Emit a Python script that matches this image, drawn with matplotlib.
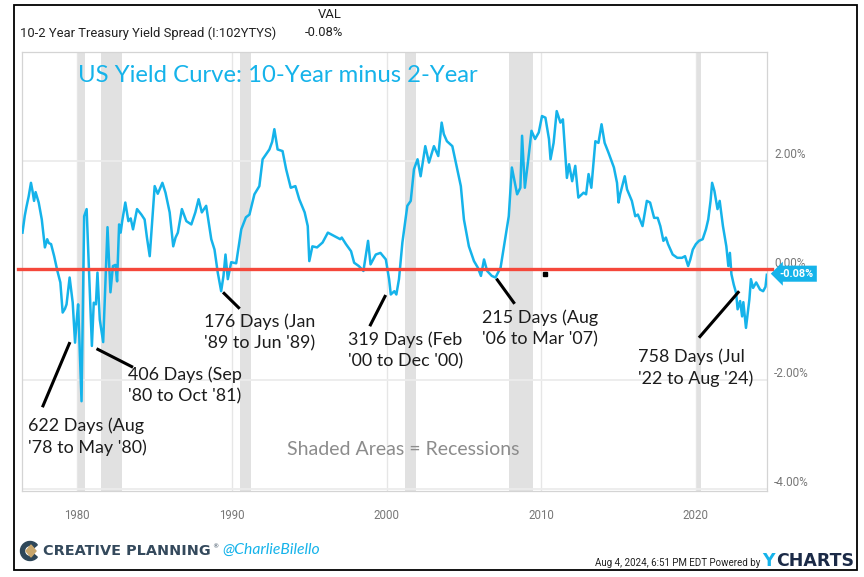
import matplotlib
matplotlib.use('Agg')
import matplotlib.pyplot as plt
import matplotlib.transforms as mtransforms
from matplotlib.patches import Rectangle, Polygon, Wedge

# 10-2 year spread (%) (decimal years)
years = [1976.45, 1976.6, 1976.7, 1976.85, 1977.0, 1977.1, 1977.2, 1977.3, 1977.5, 1977.7,
         1977.9, 1978.05, 1978.15, 1978.3, 1978.5, 1978.7, 1978.9, 1979.05, 1979.2, 1979.3,
         1979.5, 1979.7, 1979.85, 1979.95, 1980.05, 1980.27, 1980.44, 1980.6, 1980.74, 1980.94,
         1981.06, 1981.2, 1981.3, 1981.45, 1981.67, 1981.95, 1982.14, 1982.3, 1982.46, 1982.57,
         1982.7, 1982.8, 1982.9, 1983.1, 1983.3, 1983.45, 1983.6, 1983.86, 1984.14, 1984.35,
         1984.5, 1984.68, 1985.0, 1985.2, 1985.5, 1985.7, 1985.97, 1986.2, 1986.35, 1986.5,
         1986.76, 1987.05, 1987.37, 1987.63, 1987.84, 1988.05, 1988.33, 1988.66, 1988.87, 1989.08,
         1989.3, 1989.45, 1989.58, 1989.73, 1989.95, 1990.27, 1990.6, 1990.9, 1991.13, 1991.45,
         1991.77, 1991.98, 1992.2, 1992.42, 1992.6, 1992.74, 1992.95, 1993.27, 1993.5, 1993.8,
         1994.1, 1994.35, 1994.7, 1994.9, 1995.0, 1995.2, 1995.5, 1995.86, 1996.2, 1996.6,
         1997.0, 1997.1, 1997.37, 1997.7, 1997.9, 1998.2, 1998.5, 1998.8, 1998.96, 1999.3,
         1999.6, 1999.95, 2000.16, 2000.27, 2000.5, 2000.63, 2000.8, 2001.02, 2001.34, 2001.56,
         2001.77, 2002.0, 2002.2, 2002.5, 2002.74, 2003.06, 2003.34, 2003.56, 2003.7, 2003.9,
         2004.25, 2004.57, 2004.8, 2005.0, 2005.32, 2005.65, 2005.9, 2006.1, 2006.3, 2006.5,
         2006.8, 2007.04, 2007.37, 2007.7, 2007.9, 2008.1, 2008.44, 2008.65, 2008.76, 2008.94,
         2009.15, 2009.37, 2009.6, 2009.84, 2010.05, 2010.27, 2010.5, 2010.6, 2010.8, 2011.0,
         2011.24, 2011.4, 2011.66, 2011.8, 2012.0, 2012.2, 2012.4, 2012.74, 2012.9, 2013.06,
         2013.24, 2013.5, 2013.7, 2013.9, 2014.1, 2014.35, 2014.7, 2014.9, 2015.0, 2015.1,
         2015.4, 2015.55, 2015.86, 2016.08, 2016.25, 2016.55, 2016.83, 2017.04, 2017.3, 2017.53,
         2017.7, 2017.9, 2018.06, 2018.2, 2018.5, 2018.8, 2019.1, 2019.3, 2019.5, 2019.64,
         2019.8, 2020.0, 2020.2, 2020.44, 2020.65, 2020.8, 2020.95, 2021.05, 2021.2, 2021.4,
         2021.54, 2021.75, 2021.97, 2022.1, 2022.2, 2022.3, 2022.45, 2022.6, 2022.7, 2022.86,
         2022.99, 2023.07, 2023.24, 2023.46, 2023.56, 2023.7, 2023.9, 2024.15, 2024.35, 2024.5,
         2024.59]
spread = [0.69, 1.00, 1.15, 1.35, 1.60, 1.45, 1.27, 1.43, 1.24, 0.93,
          0.42, 0.57, 0.50, 0.48, 0.26, 0.00, -0.22, -0.77, -0.70, -0.62,
          -0.13, -0.59, -1.32, -0.93, -0.62, -2.39, 0.99, 1.12, 0.08, -1.38,
          -0.59, -0.62, -0.04, -0.90, -1.31, 0.79, -0.40, 0.08, 0.10, -0.20,
          0.84, 0.69, 0.90, 1.24, 0.90, 0.95, 0.75, 1.12, 1.02, 0.93,
          0.60, 0.26, 1.54, 1.40, 1.60, 1.42, 1.06, 0.44, 0.60, 0.69,
          1.12, 0.90, 0.84, 1.06, 1.30, 1.06, 1.18, 0.57, 0.38, -0.04,
          -0.38, -0.10, 0.29, -0.16, 0.15, 0.13, 0.75, 0.97, 1.02, 1.39,
          1.54, 2.03, 2.12, 2.21, 2.35, 2.58, 2.21, 2.18, 1.85, 1.51,
          1.54, 1.30, 1.06, 0.81, 0.17, 0.44, 0.42, 0.51, 0.69, 0.63,
          0.57, 0.60, 0.48, 0.35, 0.14, 0.08, -0.01, 0.54, 0.11, 0.29,
          0.32, 0.20, -0.16, -0.44, -0.38, -0.44, -0.16, 0.51, 1.18, 1.27,
          1.85, 2.03, 1.72, 2.27, 1.97, 2.27, 2.09, 2.70, 2.49, 2.36,
          2.27, 1.85, 1.54, 0.93, 0.44, 0.17, 0.05, -0.10, 0.20, -0.01,
          -0.10, -0.13, 0.05, 0.63, 0.99, 1.88, 1.39, 1.51, 2.46, 1.51,
          2.00, 2.55, 2.40, 2.52, 2.82, 2.79, 2.40, 2.03, 2.33, 2.91,
          2.70, 2.76, 1.69, 1.94, 1.63, 1.91, 1.33, 1.42, 1.39, 1.76,
          1.51, 2.36, 2.33, 2.67, 2.33, 2.15, 1.88, 1.60, 1.24, 1.39,
          1.72, 1.48, 1.27, 0.99, 1.02, 0.81, 1.27, 1.24, 0.96, 0.96,
          0.81, 0.54, 0.60, 0.48, 0.29, 0.23, 0.23, 0.26, 0.08, 0.20,
          0.38, 0.48, 0.54, 0.57, 0.75, 0.93, 1.27, 1.60, 1.45, 1.12,
          1.27, 0.81, 0.44, 0.08, 0.32, -0.07, -0.26, -0.41, -0.71, -0.56,
          -0.84, -0.58, -1.05, -0.53, -0.16, -0.32, -0.22, -0.35, -0.38, -0.30,
          -0.08]

rec_start = [1980.0, 1981.5, 1990.55, 2001.2, 2007.92, 2020.1]
rec_end = [1980.5, 1982.88, 1991.2, 2001.88, 2009.45, 2020.32]

decades = [1980, 1990, 2000, 2010, 2020]
y_ticks = [2, 0, -2, -4]
y_labels = ['2.00%', '0.00%', '-2.00%', '-4.00%']
last_val = -0.08

title = 'US Yield Curve: 10-Year minus 2-Year'
note_texts = ["622 Days (Aug\n'78 to May '80)",
              "406 Days (Sep\n'80 to Oct '81)",
              "176 Days (Jan\n'89 to Jun '89)",
              "319 Days (Feb\n'00 to Dec '00)",
              "215 Days (Aug\n'06 to Mar '07)",
              "758 Days (Jul\n'22 to Aug '24)"]

CYAN = '#15b3ea'
W, H = 864, 577


def fx(px):
    return px / W


def fy(px):
    return 1 - px / H


fig = plt.figure(figsize=(8.64, 5.77), dpi=100)
ax = fig.add_axes([fx(22), fy(491), fx(767) - fx(22), fy(52) - fy(491)])
ax.set_xlim(1976.42, 2024.6)
ax.set_ylim(-4.03, 3.99)

for s, e in zip(rec_start, rec_end):
    ax.axvspan(s, e, color='#e1e1e1', lw=0, zorder=0)
for d in decades:
    ax.axvline(d, color='#e6e6e6', lw=1, zorder=0.5)
for t in y_ticks:
    ax.axhline(t, color='#ececec', lw=1.3, zorder=0.5)

ax.plot(years, spread, color=CYAN, lw=1.8, zorder=3)
ax.axhline(0.02, xmin=-0.006, xmax=1.007, color='#f5483b', lw=2.4, zorder=4, clip_on=False)
ax.plot([2010.26], [-0.07], marker='s', ms=2.2, color='black', zorder=5)

ax.set_xticks(decades)
ax.set_xticklabels([str(d) for d in decades])
ax.tick_params(axis='x', length=0, pad=13, labelsize=8.3, labelcolor='#777777')
ax.yaxis.tick_right()
ax.set_yticks(y_ticks)
ax.set_yticklabels(y_labels, va='bottom')
ax.tick_params(axis='y', length=0, pad=5, labelsize=8.5, labelcolor='#777777')
for lab in ax.get_xticklabels() + ax.get_yticklabels():
    lab.set_family('Roboto')
for sp in ax.spines.values():
    sp.set_color('#d4d4d4')
    sp.set_linewidth(0.9)

# last value tag
blend = mtransforms.blended_transform_factory(ax.transAxes, ax.transData)
ax.text(1.017, last_val + 0.02, '%.2f%%' % last_val, transform=blend, ha='left', va='center',
        color='white', fontsize=7.8, fontweight='bold', family='Roboto', zorder=6,
        bbox=dict(boxstyle='larrow,pad=0.28', fc=CYAN, ec='none'), clip_on=False)

# title and notes
hand = dict(family='Lato', color='#1c1c1c', fontsize=12.9, linespacing=1.4)
ax.text(1980.03, 3.56, title, color=CYAN, fontsize=17.2, family='Lato', ha='left', va='center')

note_pos = [(1976.8, -3.03), (1983.26, -2.11), (1988.18, -1.13),
            (1997.49, -1.47), (2006.19, -1.06), (2016.23, -1.77)]
note_lines = [((1977.74, -2.50), (1979.52, -1.31)),
              ((1981.24, -1.43), (1983.6, -1.77)),
              ((1989.42, -0.40), (1990.5, -0.70)),
              ((1999.94, -0.45), (1998.91, -1.02)),
              ((2007.1, -0.15), (2008.28, -0.61)),
              ((2022.8, -0.38), (2020.2, -1.23))]
for txt, (tx, ty), (p0, p1) in zip(note_texts, note_pos, note_lines):
    ax.text(tx, ty, txt, ha='left', va='center', zorder=6, **hand)
    ax.plot([p0[0], p1[0]], [p0[1], p1[1]], color='black', lw=2.2, zorder=6,
            solid_capstyle='butt')

ax.text(2001.1, -3.27, 'Shaded Areas = Recessions', ha='center', va='center',
        family='Lato', fontsize=14, color='#8c8c8c')

# header
hdr = dict(fontsize=9.4, family='Roboto', color='#222222', va='center')
fig.text(fx(20), fy(33), '10-2 Year Treasury Yield Spread (I:102YTYS)', ha='left', **hdr)
fig.text(fx(330), fy(15), 'VAL', ha='center', **hdr)
fig.text(fx(324), fy(33), '%.2f%%' % last_val, ha='center', **hdr)

# footer
ident = mtransforms.IdentityTransform()
fig.add_artist(Wedge((30, H - 551), 9.5, 40, 320, width=4, color='#2e4759', transform=ident))
fig.add_artist(Polygon([(31, H - 545), (36, H - 551), (31, H - 557), (26, H - 551)],
                       closed=True, color='#c8a66c', transform=ident))
fig.text(fx(43), fy(551), 'CREATIVE PLANNING', ha='left', va='center', fontsize=10.4,
         fontweight='bold', family='DejaVu Sans', color='#34495c')
fig.text(fx(212), fy(547), '®', ha='left', va='center', fontsize=4.5, color='#34495c')
fig.text(fx(222), fy(550), '@CharlieBilello', ha='left', va='center', fontsize=11.3,
         family='Lato', style='italic', color=CYAN)
fig.text(fx(760), fy(563), 'Aug 4, 2024, 6:51 PM EDT Powered by', ha='right', va='center',
         fontsize=7, family='Roboto', color='#222222')
fig.text(fx(762), fy(561), 'Y', ha='left', va='center', fontsize=12.5, fontweight='bold',
         family='DejaVu Sans', color=CYAN)
fig.text(fx(776), fy(561), 'CHARTS', ha='left', va='center', fontsize=12.5, fontweight='bold',
         family='DejaVu Sans', color='#1b2a47')

# outer frame
fig.add_artist(Rectangle((fx(14), fy(570)), fx(857) - fx(14), fy(5) - fy(570),
                         transform=fig.transFigure, fill=False, ec='black', lw=1.3))

fig.savefig('out.png', dpi=100)
